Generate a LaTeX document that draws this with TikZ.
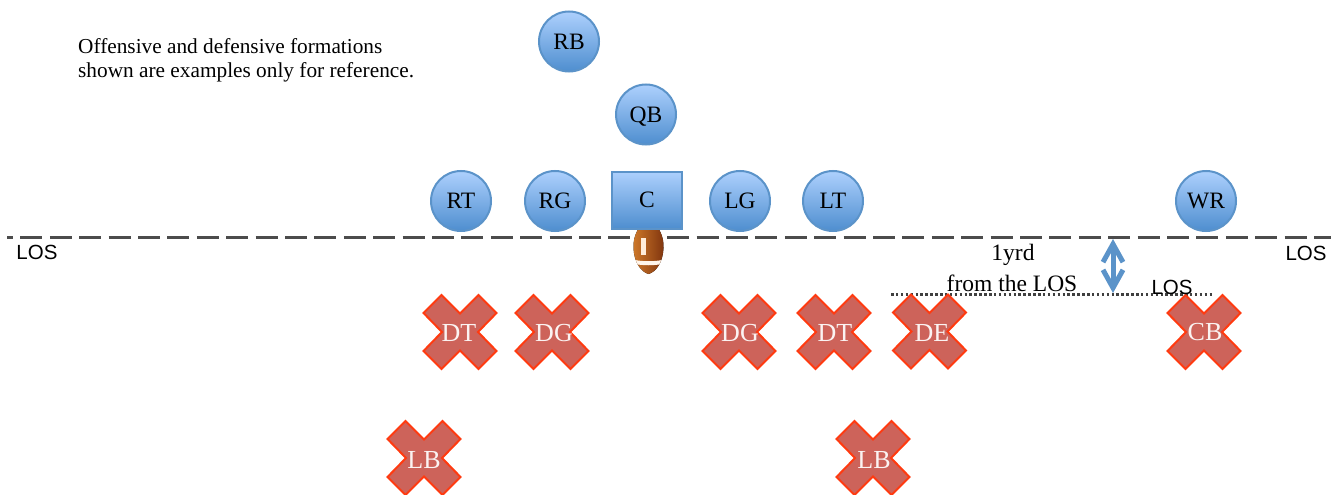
\documentclass[tikz,border=0pt]{standalone}
\usepackage{fontspec}
\setmainfont{Liberation Serif}
\setsansfont{Liberation Sans}
\usetikzlibrary{arrows.meta}

\definecolor{offtop}{HTML}{ADD0FD}
\definecolor{offbot}{HTML}{4E8ECF}
\definecolor{offline}{HTML}{5B93C9}
\definecolor{defred}{HTML}{CD635A}
\definecolor{defline}{HTML}{FF3A10}
\definecolor{ballleft}{HTML}{D07A2A}
\definecolor{ballmid}{HTML}{C9661C}
\definecolor{ballright}{HTML}{7E330E}

\begin{document}
\begin{tikzpicture}[x=1pt, y=-1pt]
    \tikzset{off/.style={draw=offline, line width=2pt, top color=offtop, bottom color=offbot, font=\fontsize{23.5}{24}\selectfont, text=black, text height=15.5pt, text depth=0pt},
      player/.style={off, shape=circle, minimum size=60pt, inner sep=0pt},
      center/.style={off, shape=rectangle, minimum width=70pt, minimum height=57pt, inner sep=0pt},
      defcross/.style={draw=defline, line width=2pt, fill=defred, line join=miter},
      deflabel/.style={text=white!92!defred, font=\fontsize{26}{26}\selectfont, inner sep=0pt, text height=17pt, text depth=0pt},
      note/.style={font=\fontsize{21.3}{24}\selectfont, inner sep=0pt, align=left},
      yardnote/.style={font=\fontsize{23.5}{24}\selectfont, inner sep=0pt},
      tag/.style={font=\sffamily\fontsize{20.5}{21}\selectfont, inner sep=0pt}}

    \useasboundingbox (0,0) rectangle (1334,495);

    % line of scrimmage
    \coordinate (los w) at (7,237.5);
    \coordinate (los e) at (1331,237.5);
    \draw[line width=3pt, color=black!70, dash pattern=on 22pt off 7.4pt, dash phase=16pt] (los w) -- (los e);
    \coordinate (yard w) at (891,294.5);
    \coordinate (yard e) at (1214,294.5);
    \draw[line width=2.5pt, color=black!75, dash pattern=on 2.5pt off 2.4pt] (yard w) -- (yard e);

    % ball
    \begin{scope}
      \clip (648.5,218) .. controls (638,226) and (633,236) .. (633.5,248) .. controls (634,262) and (641,272) .. (648.5,274) .. controls (656,272) and (663,262) .. (663.5,248) .. controls (664,236) and (659,226) .. (648.5,218);
      \fill[left color=ballleft, middle color=ballmid, right color=ballright] (632,216) rectangle (665,276);
      \fill[white!92!orange] (630,259) .. controls (642,262) and (655,262) .. (667,259) -- (667,263) .. controls (655,266) and (642,266) .. (630,263) -- cycle;
      \fill[white!85!orange] (640.5,238) rectangle (645.5,255);
    \end{scope}

    % offense
    \draw (569,41.5) node (rb) [player] {RB};
    \draw (646,114.5) node (qb) [player] {QB};
    \draw (647,200) node (c) [center] {C};
    \foreach \name/\x in {RT/461, RG/555, LG/740, LT/833, WR/1206}
      \draw (\x,201) node (\name) [player] {\name};

    % defense
    \foreach \idx/\name/\x/\y/\tx/\ty in {1/DT/460/332/459/333, 2/DG/552/332/554/333, 3/DG/739/332/740/333, 4/DT/834/332/835/333, 5/DE/929.5/331.5/932/333, 6/CB/1204/332/1205/332, 7/LB/424/458/424/460, 8/LB/873/458/874/460} {
      \draw[defcross, shift={(\x,\y)}] (0,-18.5) -- (18.5,-37) -- (36.5,-19) -- (18,0) -- (36.5,19) -- (18.5,37) -- (0,18.5) -- (-18.5,37) -- (-36.5,19) -- (-18,0) -- (-36.5,-19) -- (-18.5,-37) -- cycle;
      \draw (\tx,\ty) node (d\idx) [deflabel] {\name};
    }

    % one yard marker
    \draw[{Straight Barb[length=18pt, width=20pt]}-{Straight Barb[length=18pt, width=20pt]}, line width=5pt, color=offline] (1113,239) coordinate (gap n) -- (1113,293) coordinate (gap s);

    % texts
    \draw (78,60) node (remark) [note, anchor=west] {Offensive and defensive formations\\shown are examples only for reference.};
    \draw (1013,255) node (yard a) [yardnote] {1yrd};
    \draw (1012,283) node (yard b) [yardnote] {from the LOS};
    \draw (37,252) node (los l) [tag] {LOS};
    \draw (1306,253) node (los r) [tag] {LOS};
    \draw (1172,287) node (los m) [tag] {LOS};
  \end{tikzpicture}
\end{document}
